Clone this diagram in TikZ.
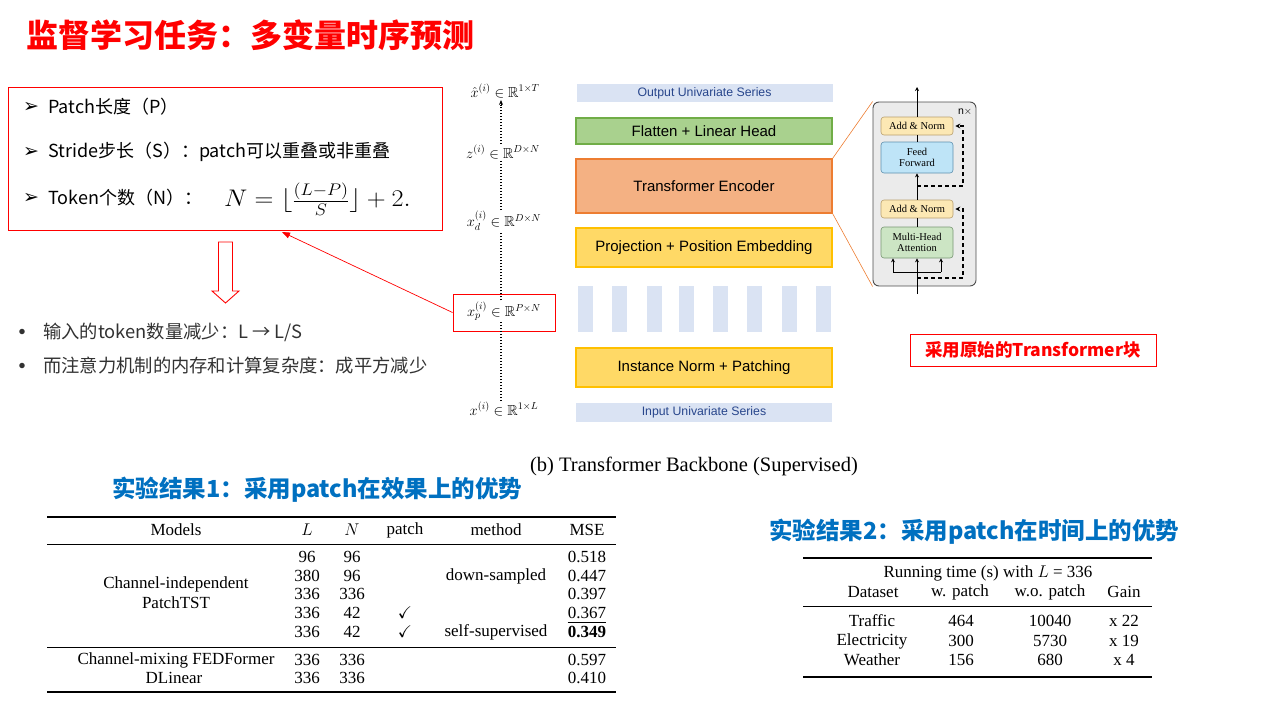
\RequirePackage{fix-cm}
\documentclass[tikz,border=0pt]{standalone}
\usepackage{amssymb}
\usepackage{fontspec}
\setmainfont{Liberation Serif}
\newfontfamily\cjk{Noto Sans CJK SC}
\newfontfamily\arialf{Liberation Sans}
\newfontfamily\dejavu{DejaVu Sans}
\usetikzlibrary{arrows.meta}

\definecolor{hdred}{RGB}{255,0,0}
\definecolor{subblue}{RGB}{0,112,192}
\definecolor{serfill}{RGB}{218,227,243}
\definecolor{sertext}{RGB}{40,70,140}
\definecolor{grnfill}{RGB}{169,209,142}
\definecolor{grnedge}{RGB}{112,173,71}
\definecolor{orfill}{RGB}{244,177,131}
\definecolor{oredge}{RGB}{237,125,49}
\definecolor{yelfill}{RGB}{255,217,102}
\definecolor{yeledge}{RGB}{255,192,0}
\definecolor{anfill}{RGB}{252,232,180}
\definecolor{anedge}{RGB}{185,160,110}
\definecolor{fffill}{RGB}{190,228,247}
\definecolor{ffedge}{RGB}{95,145,175}
\definecolor{mhfill}{RGB}{204,229,196}
\definecolor{mhedge}{RGB}{120,150,115}
\definecolor{bodytext}{RGB}{50,50,50}

\begin{document}
\begin{tikzpicture}[x=1pt,y=-1pt,
  cjktxt/.style={font=\cjk\fontsize{18}{22}\selectfont, anchor=west, inner sep=0pt},
  bultxt/.style={font=\cjk\fontsize{18.3}{22}\selectfont, anchor=west, inner sep=0pt, text=bodytext},
  arrbullet/.style={font=\dejavu\fontsize{19}{22}\selectfont, inner sep=0pt},
  mlabel/.style={font=\fontsize{14.5}{17}\selectfont, inner sep=1pt},
  blk/.style={minimum width=256, font=\arialf\fontsize{15}{17}\selectfont, line width=1.3pt, inner sep=0pt},
  serbox/.style={fill=serfill, minimum width=256, minimum height=18, font=\arialf\fontsize{12.3}{14}\selectfont, text=sertext, inner sep=0pt},
  patchbar/.style={fill=serfill, minimum width=15, minimum height=46, inner sep=0pt},
  sub/.style={rounded corners=3, minimum width=72, font=\fontsize{10.5}{11}\selectfont, align=center, inner sep=0pt, line width=0.6pt},
  dotline/.style={line width=1.4pt, dash pattern=on 1.4pt off 1.6pt},
  resid/.style={line width=1.1pt, dash pattern=on 4pt off 3pt, -{Stealth[length=5pt,width=5pt]}},
  tab/.style={font=\fontsize{17}{19}\selectfont, inner sep=0pt},
  subtitle/.style={font=\cjk\bfseries\fontsize{23.5}{27}\selectfont, text=subblue, anchor=west, inner sep=0pt}
]
\useasboundingbox (0,0) rectangle (1285,715);

% ---------- title ----------
\node[font=\cjk\bfseries\fontsize{32}{37}\selectfont, text=hdred, anchor=west, inner sep=0pt] (title) at (26,35) {监督学习任务：多变量时序预测};

% ---------- patch parameters ----------
\node[draw=hdred, line width=1pt, minimum width=434, minimum height=143, inner sep=0pt] (parbox) at (225,158.5) {};
\node[arrbullet] (b1) at (31,107) {➢};
\node[cjktxt] (p1) at (48,107) {Patch长度（P）};
\node[arrbullet] (b2) at (31,152) {➢};
\node[cjktxt] (p2) at (48,152) {Stride步长（S）：patch可以重叠或非重叠};
\node[arrbullet] (b3) at (31,198) {➢};
\node[cjktxt] (p3) at (48,198) {Token个数（N）：};
\node[font=\fontsize{24}{28}\selectfont, anchor=west, inner sep=0pt] (formula) at (224,199) {\scalebox{1.09}[1]{$N=\lfloor\frac{(L-P)}{S}\rfloor+2.$}};

% hollow down arrow
\draw[hdred, line width=0.9pt, fill=white] (218.5,242) -- (232.5,242) -- (232.5,291) -- (239,291) -- (225.5,303) -- (212,291) -- (218.5,291) -- cycle;

% consequences
\node[font=\fontsize{14}{16}\selectfont, text=bodytext, inner sep=0pt] (d1) at (22,332) {$\bullet$};
\node[bultxt] (c1) at (43,332) {输入的token数量减少：L → L/S};
\node[font=\fontsize{14}{16}\selectfont, text=bodytext, inner sep=0pt] (d2) at (22,366) {$\bullet$};
\node[bultxt] (c2) at (43,366) {而注意力机制的内存和计算复杂度：成平方减少};

% ---------- backbone: shape annotations ----------
\node[mlabel] (xhat) at (505,91) {$\hat{x}^{(i)}\in\mathbb{R}^{1\times T}$};
\node[mlabel] (zl) at (503,152) {$z^{(i)}\in\mathbb{R}^{D\times N}$};
\node[mlabel] (xd) at (504,221) {$x_d^{(i)}\in\mathbb{R}^{D\times N}$};
\node[mlabel] (xp) at (504,311) {$x_p^{(i)}\in\mathbb{R}^{P\times N}$};
\node[mlabel] (xin) at (504,409) {$x^{(i)}\in\mathbb{R}^{1\times L}$};
\node[draw=hdred, line width=1pt, minimum width=102, minimum height=37, inner sep=0pt] (xpbox) at (504,312.5) {};

\draw[dotline] ([xshift=-3pt]xin.north) -- ([xshift=-3pt]xp.south);
\draw[dotline] ([xshift=-3pt]xp.north) -- ([xshift=-3pt]xd.south);
\draw[dotline] ([xshift=-3pt]xd.north) -- ([xshift=-2pt]zl.south);
\draw[dotline] ([xshift=-2pt]zl.north) -- ([xshift=-4pt,yshift=-6pt]xhat.south);
\draw[-{Stealth[length=5pt,width=4pt]}, line width=1pt] ([xshift=-4pt,yshift=-7pt]xhat.south) -- ([xshift=-4pt,yshift=-1pt]xhat.south);

% link to the parameter box
\coordinate (parpt) at (282,232);
\draw[hdred, line width=0.7pt, -{Triangle[length=8pt,width=6pt]}] (xpbox.west) -- (parpt);

% ---------- backbone blocks ----------
\node[serbox] (outser) at (704.5,93) {Output Univariate Series};
\node[blk, draw=grnedge, fill=grnfill, minimum height=26] (flat) at (704,131) {Flatten + Linear Head};
\node[blk, draw=oredge, fill=orfill, minimum height=54] (enc) at (704,186) {Transformer Encoder};
\node[blk, draw=yeledge, fill=yelfill, minimum height=39] (proj) at (704,247.5) {Projection + Position Embedding};
\foreach \i/\xx in {1/585,2/619.5,3/654,4/686,5/720.5,6/754.5,7/789.5,8/823.5}{
  \node[patchbar] (bar\i) at (\xx,309) {};
}
\node[blk, draw=yeledge, fill=yelfill, minimum height=39] (inorm) at (704,367.5) {Instance Norm + Patching};
\node[serbox, minimum height=19] (inser) at (704,412.5) {Input Univariate Series};

\node[font=\fontsize{20.5}{24}\selectfont, inner sep=0pt] (caption) at (694,466) {(b) Transformer Backbone (Supervised)};

% ---------- transformer layer detail ----------
\node[draw=black!70, fill=black!8, line width=0.9pt, rounded corners=6, minimum width=103, minimum height=184, inner sep=0pt] (layer) at (924.5,194) {};
\draw[oredge, line width=0.6pt] (enc.north east) -- (layer.north west);
\draw[oredge, line width=0.6pt] (enc.south east) -- (layer.south west);
\node[font=\arialf\fontsize{10.5}{12}\selectfont, inner sep=0pt] (nx) at (965,112) {n$\times$};

\node[sub, draw=anedge, fill=anfill, minimum height=18] (an2) at (917,126) {Add \& Norm};
\node[sub, draw=ffedge, fill=fffill, minimum height=31] (ff) at (917,157.5) {Feed\\Forward};
\node[sub, draw=anedge, fill=anfill, minimum height=18] (an1) at (917,209) {Add \& Norm};
\node[sub, draw=mhedge, fill=mhfill, minimum height=31] (mha) at (917,242.5) {Multi-Head\\Attention};

\coordinate (lin) at (917,294);
\coordinate (split) at (917,272);
\coordinate (splitl) at (893,272);
\coordinate (splitr) at (941,272);
\coordinate (res1) at (917,278);
\coordinate (res2) at (917,186);
\coordinate (lout) at (917,87);

\draw[line width=1pt] (lin) -- (split);
\draw[line width=1pt] (splitl) -- (splitr);
\draw[line width=1pt, -{Stealth[length=4pt,width=4pt]}] (splitl) -- (splitl |- mha.south);
\draw[line width=1pt, -{Stealth[length=4pt,width=4pt]}] (split) -- (mha.south);
\draw[line width=1pt, -{Stealth[length=4pt,width=4pt]}] (splitr) -- (splitr |- mha.south);
\draw[line width=1pt] (mha.north) -- (an1.south);
\draw[line width=1pt, -{Stealth[length=4pt,width=4pt]}] (an1.north) -- (ff.south);
\draw[line width=1pt] (ff.north) -- (an2.south);
\draw[line width=1pt, -{Stealth[length=4pt,width=4pt]}] (an2.north) -- (lout);

\draw[resid] (res1) -- (963,278) |- ([xshift=2pt]an1.east);
\draw[resid] (res2) -- (963,186) |- ([xshift=2pt]an2.east);

\node[draw=hdred, line width=1pt, minimum width=246, minimum height=32, inner sep=0pt,
      font=\cjk\bfseries\fontsize{17.5}{20}\selectfont, text=hdred] (orig) at (1033,350) {采用原始的Transformer块};

% ---------- result 1 ----------
\node[subtitle] (sub1) at (112,490) {实验结果1：采用patch在效果上的优势};

\draw[line width=1.6pt] (47,517) -- (616,517);
\draw[line width=0.8pt] (47,544) -- (616,544);
\draw[line width=0.8pt] (47,647) -- (616,647);
\draw[line width=2.2pt] (47,692) -- (616,692);

\node[tab] (h1) at (176,530) {Models};
\node[tab] (h2) at (307,530) {$L$};
\node[tab] (h3) at (352,530) {$N$};
\node[tab] (h4) at (405,530) {patch};
\node[tab] (h5) at (496,530) {method};
\node[tab] (h6) at (587,530) {MSE};

\node[tab] (m1) at (176,584) {Channel-independent};
\node[tab] (m2) at (176,603) {PatchTST};
\foreach \r/\yy/\lv/\nv/\pv/\mv/\ev in {
  1/557/96/96///0.518,
  2/576/380/96//down-sampled/0.447,
  3/594/336/336///0.397,
  4/613/336/42/$\checkmark$//0.367,
  5/632/336/42/$\checkmark$/self-supervised/\textbf{0.349},
  6/660/336/336///0.597,
  7/678/336/336///0.410}{
  \node[tab] (rL\r) at (307,\yy) {\lv};
  \node[tab] (rN\r) at (352,\yy) {\nv};
  \node[tab] (rP\r) at (405,\yy) {\pv};
  \node[tab] (rM\r) at (496,\yy) {\mv};
  \node[tab] (rE\r) at (587,\yy) {\ev};
}
\draw[line width=0.7pt] ([yshift=-3pt]rE4.south west) -- ([yshift=-3pt]rE4.south east);
\node[tab] (m3) at (176,660) {Channel-mixing FEDFormer};
\node[tab] (m4) at (174,678) {DLinear};

% ---------- result 2 ----------
\node[subtitle] (sub2) at (769,532) {实验结果2：采用patch在时间上的优势};

\draw[line width=1.6pt] (803,558) -- (1152,558);
\draw[line width=0.8pt] (803,606) -- (1152,606);
\draw[line width=1.6pt] (803,677) -- (1152,677);

\node[tab] (rt) at (988,573) {Running time (s) with $L$ = 336};
\node[tab] (g1) at (873,592) {Dataset};
\node[tab] (g2) at (960,592) {w. patch};
\node[tab] (g3) at (1050,592) {w.o. patch};
\node[tab] (g4) at (1124,592) {Gain};
\foreach \r/\yy/\dv/\wv/\ov/\gv in {
  1/621/Traffic/464/10040/x 22,
  2/641/Electricity/300/5730/x 19,
  3/660/Weather/156/680/x 4}{
  \node[tab] (sD\r) at (872,\yy) {\dv};
  \node[tab] (sW\r) at (961,\yy) {\wv};
  \node[tab] (sO\r) at (1050,\yy) {\ov};
  \node[tab] (sG\r) at (1124,\yy) {\gv};
}
\end{tikzpicture}
\end{document}
